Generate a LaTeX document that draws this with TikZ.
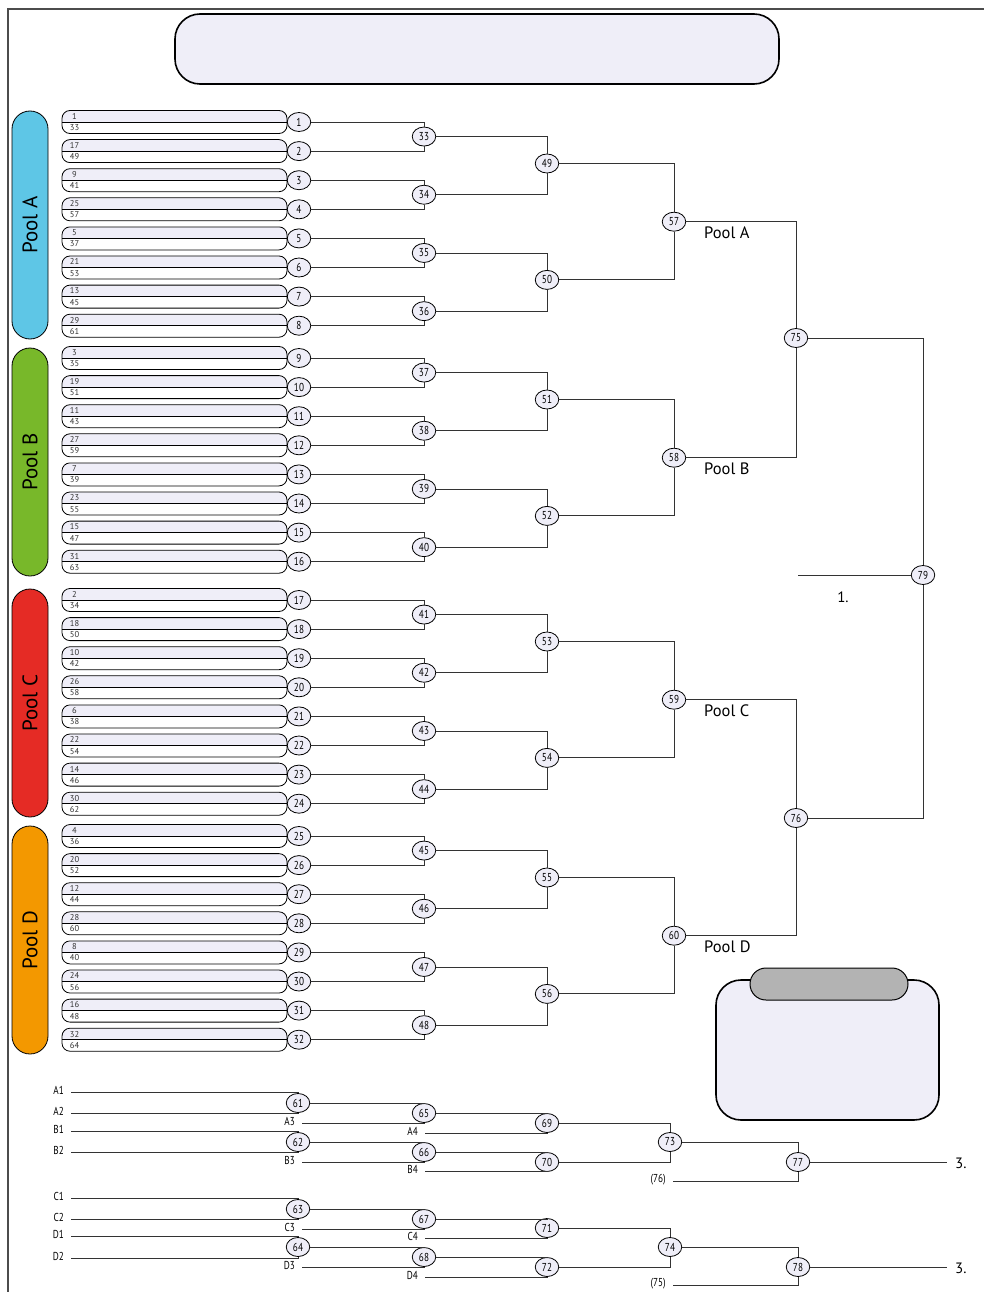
\documentclass[tikz,border=0pt]{standalone}
\usepackage{fontspec}
\setmainfont{PT Sans}
\newfontfamily\narrowfont[FakeStretch=0.8]{PT Sans}
\usetikzlibrary{shapes.geometric}
\definecolor{lav}{HTML}{EFEEF8}
\definecolor{poolA}{HTML}{5EC6E6}
\definecolor{poolB}{HTML}{78B82A}
\definecolor{poolC}{HTML}{E52B25}
\definecolor{poolD}{HTML}{F39800}
\definecolor{tabgray}{HTML}{B3B3B3}
\begin{document}
\begin{tikzpicture}[x=1pt,y=-1pt,
  game/.style={ellipse, draw=black, line width=0.8pt, fill=lav, minimum width=23.5pt, minimum height=19pt, inner sep=0pt, font=\narrowfont\fontsize{11.5}{11.5}\selectfont},
  link/.style={draw=black!80, line width=0.9pt},
  slotline/.style={draw=black, line width=0.8pt},
  slottext/.style={inner sep=0pt, font=\fontsize{8.5}{8.5}\selectfont, text=black!80},
  bigbox/.style={draw=black, line width=1.6pt, fill=lav, rounded corners=25pt},
  poolbar/.style={draw=black, line width=0.8pt, rounded corners=18pt},
  poolvert/.style={rotate=90, font=\fontsize{21}{21}\selectfont},
  poolname/.style={anchor=base west, inner sep=0pt, font=\fontsize{16.5}{16.5}\selectfont},
  seedlabel/.style={anchor=east, inner sep=0pt, font=\narrowfont\fontsize{11.5}{11.5}\selectfont},
  place/.style={inner sep=0pt, font=\fontsize{15}{15}\selectfont}]
\useasboundingbox (0,0) rectangle (984,1292);
% frame
\draw[black!70, line width=1.1pt] (8,1292) -- (8,9) -- (984,9);
% title box
\draw[bigbox] (175,14) rectangle (779,84);
% right box with tab
\draw[bigbox] (716,980) rectangle (939,1120);
\draw[draw=black, line width=1pt, fill=tabgray, rounded corners=16pt] (750,968) rectangle (908,1000);
% pool bars
\draw[poolbar, fill=poolA] (12,111) rectangle (48,339);
\draw[poolbar, fill=poolB] (12,348) rectangle (48,576);
\draw[poolbar, fill=poolC] (12,589) rectangle (48,817);
\draw[poolbar, fill=poolD] (12,826) rectangle (48,1054);
\node[poolvert] (pva) at (30,225) {Pool A};
\node[poolvert] (pvb) at (30,462) {Pool B};
\node[poolvert] (pvc) at (30,703) {Pool C};
\node[poolvert] (pvd) at (30,940) {Pool D};
% slots and first round
\foreach \q/\off/\st in {0/0/122,1/2/358,2/1/600,3/3/836} {
  \foreach \i/\p in {0/1,1/17,2/9,3/25,4/5,5/21,6/13,7/29} {
    \pgfmathsetmacro\yy{\st+29.1*\i}
    \pgfmathtruncatemacro\n{\q*8+\i+1}
    \pgfmathtruncatemacro\up{\p+\off}
    \pgfmathtruncatemacro\lo{\p+\off+32}
    \begin{scope}
      \clip[rounded corners=8pt] (62,\yy-11.5) rectangle (287,\yy+11.5);
      \fill[lav] (62,\yy-11.5) rectangle (287,\yy);
      \fill[white] (62,\yy) rectangle (287,\yy+11.5);
    \end{scope}
    \draw[slotline, rounded corners=8pt] (62,\yy-11.5) rectangle (287,\yy+11.5);
    \draw[slotline] (62,\yy) -- (287,\yy);
    \node[slottext] (u\n) at (74.5,\yy-5.6) {\up};
    \node[slottext] (l\n) at (74.5,\yy+5.6) {\lo};
    \node[game] (c\n) at (299,\yy) {\n};
  }
}
% round 2
\foreach \q/\st in {0/122,1/358,2/600,3/836} {
  \foreach \j in {0,...,3} {
    \pgfmathsetmacro\yy{\st+14.55+58.2*\j}
    \pgfmathtruncatemacro\m{33+\q*4+\j}
    \pgfmathtruncatemacro\a{\q*8+2*\j+1}
    \pgfmathtruncatemacro\b{\a+1}
    \node[game] (c\m) at (424,\yy) {\m};
    \draw[link] (c\a) -| (c\m);
    \draw[link] (c\b) -| (c\m);
  }
}
% round 3
\foreach \q/\st in {0/122,1/358,2/600,3/836} {
  \foreach \j in {0,1} {
    \pgfmathsetmacro\yy{\st+41.5+116.4*\j}
    \pgfmathtruncatemacro\m{49+\q*2+\j}
    \pgfmathtruncatemacro\a{33+\q*4+2*\j}
    \pgfmathtruncatemacro\b{\a+1}
    \node[game] (c\m) at (547,\yy) {\m};
    \draw[link] (c\a) -| (c\m);
    \draw[link] (c\b) -| (c\m);
  }
}
% round 4 (pool winners)
\foreach \q/\st/\nm in {0/122/A,1/358/B,2/600/C,3/836/D} {
  \pgfmathsetmacro\yy{\st+99.7}
  \pgfmathtruncatemacro\m{57+\q}
  \pgfmathtruncatemacro\a{49+2*\q}
  \pgfmathtruncatemacro\b{\a+1}
  \node[game] (c\m) at (674,\yy) {\m};
  \draw[link] (c\a) -| (c\m);
  \draw[link] (c\b) -| (c\m);
  \node[poolname] (pn\nm) at (704,\yy+16.8) {Pool \nm};
}
% semifinals and final
\node[game] (c75) at (796,338) {75};
\node[game] (c76) at (796,818) {76};
\node[game] (c79) at (923,575) {79};
\draw[link] (c57) -| (c75);
\draw[link] (c58) -| (c75);
\draw[link] (c59) -| (c76);
\draw[link] (c60) -| (c76);
\draw[link] (c75) -| (c79);
\draw[link] (c76) -| (c79);
\coordinate (win) at (798,575);
\draw[link] (win) -- (c79);
\node[place] (first) at (843,597) {1.};
% consolation bracket
\node[game] (c61) at (298,1103) {61};
\node[game] (c62) at (298,1142) {62};
\node[game] (c63) at (298,1209) {63};
\node[game] (c64) at (298,1247) {64};
\node[game] (c65) at (424,1113) {65};
\node[game] (c66) at (424,1152) {66};
\node[game] (c67) at (424,1219) {67};
\node[game] (c68) at (424,1257) {68};
\node[game] (c69) at (547,1123) {69};
\node[game] (c70) at (547,1162) {70};
\node[game] (c71) at (547,1228) {71};
\node[game] (c72) at (547,1267) {72};
\node[game] (c73) at (670,1142) {73};
\node[game] (c74) at (670,1247) {74};
\node[game] (c77) at (798,1162) {77};
\node[game] (c78) at (798,1267) {78};
% entry lines
\foreach \lab/\x/\y/\tgt in {A1/71/1092/61, A2/71/1113/61, B1/71/1131/62, B2/71/1152/62,
  C1/71/1198/63, C2/71/1219/63, D1/71/1236/64, D2/71/1258/64,
  A3/302/1123/65, B3/302/1162/66, C3/302/1229/67, D3/302/1267/68,
  A4/425/1133/69, B4/425/1171/70, C4/425/1238/71, D4/425/1277/72} {
  \pgfmathsetmacro\lx{\x-7}
  \node[seedlabel] (lab\lab) at (\lx,\y-1.5) {\lab};
  \coordinate (s\lab) at (\x,\y);
  \draw[link] (s\lab) -| (c\tgt);
}
\node[seedlabel] (lab76) at (666,1180) {(76)};
\coordinate (s76) at (673,1181);
\draw[link] (s76) -| (c77);
\node[seedlabel] (lab75) at (666,1284) {(75)};
\coordinate (s75) at (673,1285);
\draw[link] (s75) -| (c78);
\draw[link] (c61) -| (c65);
\draw[link] (c62) -| (c66);
\draw[link] (c63) -| (c67);
\draw[link] (c64) -| (c68);
\draw[link] (c65) -| (c69);
\draw[link] (c66) -| (c70);
\draw[link] (c67) -| (c71);
\draw[link] (c68) -| (c72);
\draw[link] (c69) -| (c73);
\draw[link] (c70) -| (c73);
\draw[link] (c71) -| (c74);
\draw[link] (c72) -| (c74);
\draw[link] (c73) -| (c77);
\draw[link] (c74) -| (c78);
\coordinate (e77) at (947,1162);
\coordinate (e78) at (947,1267);
\draw[link] (c77) -- (e77);
\draw[link] (c78) -- (e78);
\node[place, anchor=west] (third1) at (955,1163) {3.};
\node[place, anchor=west] (third2) at (955,1268) {3.};
\end{tikzpicture}
\end{document}
